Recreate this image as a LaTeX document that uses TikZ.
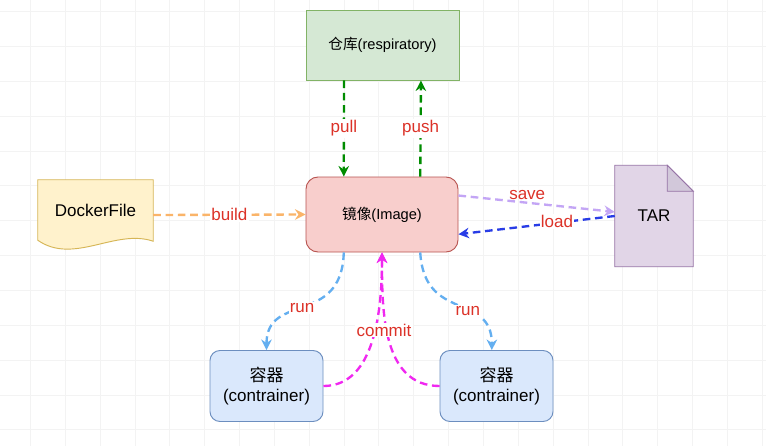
\documentclass[tikz,border=0pt]{standalone}
\usepackage{fontspec}
\setmainfont{Liberation Sans}
\newfontfamily\cjk{Noto Sans CJK SC}
\usepackage{tikz}
\usetikzlibrary{positioning}
\usetikzlibrary{calc}
\usetikzlibrary{backgrounds}
\usetikzlibrary{arrows.meta}
\definecolor{repofill}{HTML}{D5E8D4}\definecolor{repodraw}{HTML}{82B366}
\definecolor{imgfill}{HTML}{F8CECC}\definecolor{imgdraw}{HTML}{B85450}
\definecolor{dockfill}{HTML}{FFF2CC}\definecolor{dockdraw}{HTML}{D6B656}
\definecolor{tarfill}{HTML}{E1D5E7}\definecolor{tardraw}{HTML}{9673A6}\definecolor{tarfold}{HTML}{D2C8DA}
\definecolor{contfill}{HTML}{DAE8FC}\definecolor{contdraw}{HTML}{6C8EBF}
\definecolor{lblred}{RGB}{220,50,40}
\definecolor{pullgreen}{RGB}{0,140,0}
\definecolor{buildorange}{RGB}{250,180,105}
\definecolor{savepurple}{RGB}{195,165,245}
\definecolor{loadblue}{RGB}{40,60,230}
\definecolor{runblue}{RGB}{100,175,240}
\definecolor{commitpink}{RGB}{240,40,240}
\definecolor{gridgray}{HTML}{F3F3F3}
\newcommand{\lblfont}{\fontsize{14.5}{17}\selectfont}
\newcommand{\boxfont}{\fontsize{12.5}{15}\selectfont}

\begin{document}
\begin{tikzpicture}[x=0.03cm, y=-0.03cm, every node/.style={inner sep=0pt},
  repobox/.style={draw=repodraw, fill=repofill, line width=0.8pt, minimum width=4.59cm, minimum height=2.1cm, font=\boxfont},
  imgbox/.style={draw=imgdraw, fill=imgfill, line width=0.8pt, rounded corners=0.36cm, minimum width=4.56cm, minimum height=2.25cm, font=\boxfont},
  contbox/.style={draw=contdraw, fill=contfill, line width=0.8pt, rounded corners=0.3cm, minimum width=3.39cm, minimum height=2.13cm, align=center, font=\lblfont},
  flow/.style={line width=2pt, dash pattern=on 6.5pt off 4pt, -{Stealth[length=9pt,width=9pt,inset=3pt]}},
  lbl/.style={fill=white, text=lblred, font=\lblfont, inner sep=1pt}]
\useasboundingbox (0,0) rectangle (766,446);
\node (repo) at (382.5,45) [repobox] {{\cjk 仓库}(respiratory)};
\node (img) at (382,214.5) [imgbox] {{\cjk 镜像}(Image)};
\node (docker) at (95.5,215) [minimum width=3.45cm, minimum height=2.1cm, font=\lblfont] {\raisebox{8pt}{DockerFile}};
\node (tar) at (654,216) [minimum width=2.34cm, minimum height=3.03cm, font=\lblfont] {TAR};
\node (cont1) at (266.5,386) [contbox] {{\cjk 容器}\\(contrainer)};
\node (cont2) at (496.5,386) [contbox] {{\cjk 容器}\\(contrainer)};
\begin{pgfonlayer}{background}
\fill[white] (0,0) rectangle (766,446);
\foreach \i in {0,...,21} \draw[gridgray, line width=0.6pt] (30.3+34.85*\i,0) -- (30.3+34.85*\i,446);
\foreach \j in {0,...,12} \draw[gridgray, line width=0.6pt] (0,11.5+34.85*\j) -- (766,11.5+34.85*\j);
\draw[draw=dockdraw, fill=dockfill, line width=0.8pt] (docker.north west) -- (docker.north east) -- ($(docker.south east)+(0,-9)$) .. controls +(-38,-13) and +(36,25) .. ($(docker.south west)+(0,-10)$) -- cycle;
\draw[draw=tardraw, fill=tarfill, line width=0.8pt] (tar.north west) -- ($(tar.north east)+(-26,0)$) -- ($(tar.north east)+(0,26)$) -- (tar.south east) -- (tar.south west) -- cycle;
\draw[draw=tardraw, fill=tarfold, line width=0.8pt] ($(tar.north east)+(-26,0)$) -- ($(tar.north east)+(-26,26)$) -- ($(tar.north east)+(0,26)$) -- cycle;
\end{pgfonlayer}
\draw[flow, pullgreen] ($(repo.south west)!0.25!(repo.south east)$) -- node[lbl] (lpull) {pull} ($(img.north west)!0.25!(img.north east)$);
\draw[flow, pullgreen] ($(img.north west)!0.75!(img.north east)$) -- node[lbl] (lpush) {push} ($(repo.south west)!0.75!(repo.south east)$);
\draw[flow, buildorange] (docker.east) -- node[lbl] (lbuild) {build} (img.west);
\draw[flow, savepurple] ($(img.north east)!0.25!(img.south east)$) -- node[lbl, pos=0.44, yshift=7pt, fill=none] (lsave) {save} ($(tar.north west)!0.46!(tar.south west)$);
\draw[flow, loadblue] (tar.west) -- node[lbl, pos=0.37, yshift=1pt] (lload) {load} ($(img.north east)!0.76!(img.south east)$);
\draw[flow, runblue] ($(img.south west)!0.25!(img.south east)$) .. controls +(-2,74) and +(0,-58) .. node[lbl, pos=0.52] (lrun1) {run} (cont1.north);
\draw[flow, runblue] ($(img.south west)!0.75!(img.south east)$) .. controls +(4,70) and +(0,-58) .. node[lbl, pos=0.6] (lrun2) {run} ([xshift=-0.14cm]cont2.north);
\draw[flow, commitpink] (cont1.east) .. controls +(52,0) and +(0,56) .. (img.south);
\draw[flow, commitpink] (cont2.west) .. controls +(-58,0) and +(0,56) .. (img.south);
\node (lcommit) at (384,330) [lbl] {commit};
\end{tikzpicture}
\end{document}
